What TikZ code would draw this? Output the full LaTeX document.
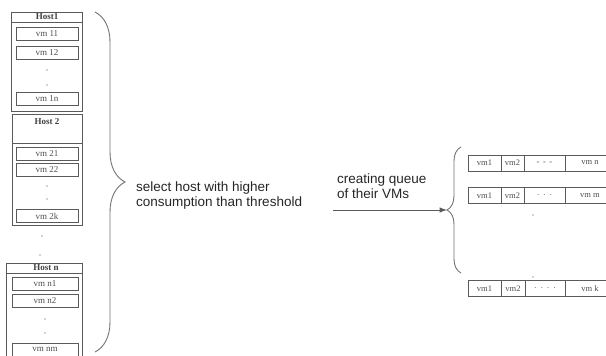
\documentclass[tikz,border=0pt]{standalone}
\usepackage{fontspec}
\setmainfont{Liberation Serif}
\setsansfont{Liberation Sans}
\usetikzlibrary{arrows.meta,positioning,decorations.pathreplacing}
\definecolor{linegray}{HTML}{5A5A5A}
\definecolor{bracegray}{HTML}{727272}

\begin{document}
\begin{tikzpicture}[x=1pt, y=-1pt, >=Latex]
  % Styles
  \tikzstyle{host}=[draw=linegray, line width=0.9pt, inner sep=0pt, outer sep=0pt]
  \tikzstyle{hosthead}=[font=\fontsize{9}{9}\selectfont\bfseries, text=black!75, inner sep=0pt]
  \tikzstyle{vmbox}=[draw=linegray, line width=1pt, minimum width=62pt, minimum height=13pt, inner sep=0pt, font=\fontsize{9}{9}\selectfont, text=black!70]
  \tikzstyle{cell}=[draw=linegray, line width=0.8pt, minimum height=16pt, inner sep=0pt, outer sep=0pt, font=\fontsize{8.5}{9}\selectfont, text=black!70]
  \tikzstyle{dot}=[circle, fill=gray!70, inner sep=0pt, minimum size=1.6pt]
  \tikzstyle{lab}=[font=\sffamily\fontsize{13.5}{15}\selectfont, align=left, inner sep=0pt, text=black!85]
  \tikzstyle{brc}=[draw=bracegray, line width=0.9pt, decorate]

  \useasboundingbox (0,0) rectangle (606,356);

  % Host 1
  \node[host, minimum width=71pt, minimum height=99pt] (h1) at (46.5,61.5) {};
  \node[hosthead] (h1head) at (47,17) {Host1};
  \draw[linegray, line width=0.9pt] (11,22) -- (82,22);
  \node[vmbox] (vm11) at (47,33.5) {vm 11};
  \node[vmbox] (vm12) at (47,52.5) {vm 12};
  \node[dot] (h1d1) at (47,70) {};
  \node[dot] (h1d2) at (47,85) {};
  \node[vmbox] (vm1n) at (47,99) {vm 1n};

  % Host 2
  \node[host, minimum width=70pt, minimum height=111pt] (h2) at (47,169.5) {};
  \node[hosthead] (h2head) at (47,122) {Host 2};
  \draw[linegray, line width=0.9pt] (12,143) -- (82,143);
  \node[vmbox] (vm21) at (47,153.5) {vm 21};
  \node[vmbox] (vm22) at (47,170) {vm 22};
  \node[dot] (h2d1) at (47,186) {};
  \node[dot] (h2d2) at (47,199) {};
  \node[vmbox] (vm2k) at (47,216) {vm 2k};

  % dots between hosts
  \node[dot] (hd1) at (42,236) {};
  \node[dot] (hd2) at (40,255) {};

  % Host n
  \node[host, minimum width=76pt, minimum height=99pt] (hn) at (44,312.5) {};
  \node[hosthead] (hnhead) at (46,268) {Host n};
  \draw[linegray, line width=0.9pt] (6,273) -- (82,273);
  \node[vmbox, minimum width=66pt] (vmn1) at (45,283.5) {vm n1};
  \node[vmbox, minimum width=66pt] (vmn2) at (45,300.5) {vm n2};
  \node[dot] (hnd1) at (45,319) {};
  \node[dot] (hnd2) at (45,333) {};
  \node[vmbox, minimum width=66pt] (vmnm) at (45,349.5) {vm nm};

  % Left brace and its label
  \draw[brc, decoration={brace, amplitude=30pt}] (95,12) -- (95,352);
  \node[lab, anchor=west] (seltext) at (136,196) {select host with higher\\consumption than threshold};

  % Arrow to the queues
  \node[lab, anchor=west] (qtext) at (337,186) {creating queue\\of their VMs};
  \coordinate (arrstart) at (333,210);
  \coordinate (qtip) at (447,210);
  \draw[->, linegray, line width=1pt] (arrstart) -- (qtip);
  \draw[brc, decoration={brace, amplitude=14pt}] (461,273) -- (461,147);

  % Queue 1
  \node[cell, minimum width=33pt] (q1a) at (484.5,163) {vm1};
  \node[cell, minimum width=23pt, right=0pt of q1a] (q1b) {vm2};
  \node[cell, minimum width=41pt, right=0pt of q1b] (q1c) {-\, -\, -};
  \node[cell, minimum width=50pt, right=0pt of q1c] (q1d) {vm n\hspace{14pt}};

  % Queue 2
  \node[cell, minimum width=33pt] (q2a) at (484.5,195.5) {vm1};
  \node[cell, minimum width=23pt, right=0pt of q2a] (q2b) {vm2};
  \node[cell, minimum width=41pt, right=0pt of q2b] (q2c) {.\ \ .\ \ .};
  \node[cell, minimum width=50pt, right=0pt of q2c] (q2d) {vm m\hspace{14pt}};

  \node[dot] (qd1) at (533,215) {};
  \node[dot] (qd2) at (533,277) {};

  % Queue k
  \node[cell, minimum width=33pt] (q3a) at (484.5,288.5) {vm1};
  \node[cell, minimum width=24pt, right=0pt of q3a] (q3b) {vm2};
  \node[cell, minimum width=40pt, right=0pt of q3b] (q3c) {.\ \ .\ \ .\ \ .};
  \node[cell, minimum width=50pt, right=0pt of q3c] (q3d) {vm k\hspace{14pt}};
\end{tikzpicture}
\end{document}
